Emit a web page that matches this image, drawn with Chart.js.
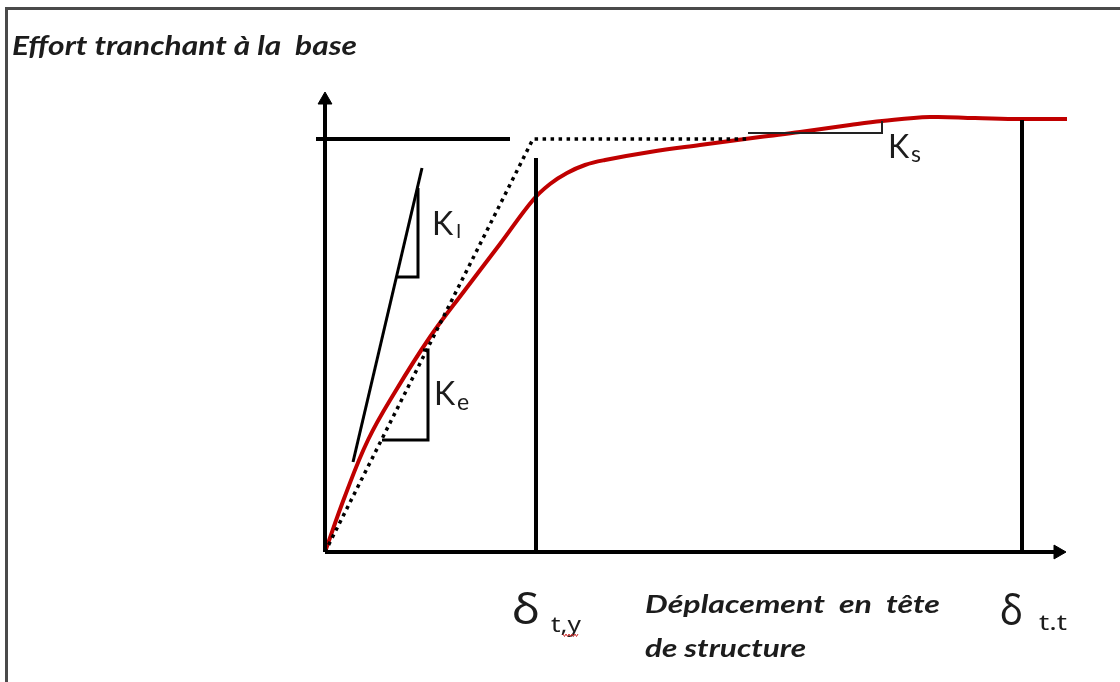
<!DOCTYPE html>
<html>
<head>
<meta charset="utf-8">
<script src="https://cdn.jsdelivr.net/npm/chart.js@4.4.1/dist/chart.umd.min.js"></script>
<style>
  html, body { margin: 0; padding: 0; background: #fff; }
  #wrap { width: 1120px; height: 682px; }
</style>
</head>
<body>
<div id="wrap"><canvas id="pushover_chart" width="1120" height="682"></canvas></div>
<script>
// capacity curve (displacement, base shear), drawing units
var capacity_x = [0, 20, 43, 70, 105, 140, 175, 208, 225, 242, 260, 280, 325, 375, 435, 475, 525, 557, 605, 650, 697, 742];
var capacity_y = [0, 56, 112, 160, 215, 262, 308, 352, 368, 379, 387, 392, 400, 407, 415, 420, 427, 431, 435, 434, 433, 433];

// bilinear idealisation (dotted)
var bilinear_x = [0, 208, 425];
var bilinear_y = [0, 413, 413];

// target displacements
var delta_ty = 211;
var delta_tt = 697;
var delta_ty_top = 394;
var delta_tt_top = 432;

// yield level line
var yield_x = [-9, 185];
var yield_y = [413, 413];

// axes ends
var axis_x_end = 740;
var axis_y_end = 459;

// stiffness triangles
var ki_line_x = [28, 97];
var ki_line_y = [90, 384];
var ki_tri_x = [93, 93, 71];
var ki_tri_y = [364, 275, 275];
var ke_tri_x = [98, 103, 103, 57];
var ke_tri_y = [202, 202, 112, 112];
var ks_tri_x = [423, 557, 557];
var ks_tri_y = [419, 419, 431];

function pts(xs, ys) {
  return xs.map(function (x, i) { return { x: x, y: ys[i] }; });
}

function seg(xs, ys, color, width, extra) {
  var ds = {
    data: pts(xs, ys),
    showLine: true,
    borderColor: color,
    borderWidth: width,
    pointRadius: 0,
    tension: 0,
    fill: false
  };
  for (var k in extra) ds[k] = extra[k];
  return ds;
}

// w = width the text is stretched to (as in the scanned figure)
var labels = [
  { text: 'Effort tranchant à la  base', x: -313, y: 497, font: 'italic bold 27px Lato', w: 345 },
  { text: 'Déplacement  en  tête', x: 320, y: -61, font: 'italic bold 25px Lato', w: 295 },
  { text: 'de structure', x: 320, y: -105, font: 'italic bold 25px Lato', w: 161 },
  { text: 'δ', x: 187, y: -72, font: '42px "Noto Sans"', w: 28 },
  { text: 't,y', x: 226, y: -80, font: '21px "Noto Sans"', w: 30 },
  { text: 'δ', x: 675, y: -73, font: '42px "Noto Sans"', w: 23 },
  { text: 't.t', x: 714, y: -78, font: '21px "Noto Sans"', w: 28 },
  { text: 'K', x: 107, y: 317, font: '32px Lato' },
  { text: 'I', x: 131, y: 314, font: '19px Lato' },
  { text: 'K', x: 109, y: 147, font: '32px Lato' },
  { text: 'e', x: 132, y: 142, font: '23px Lato' },
  { text: 'K', x: 563, y: 394, font: '32px Lato' },
  { text: 's', x: 586, y: 390, font: '23px Lato' }
];

var decorPlugin = {
  id: 'decor',
  beforeDraw: function (chart) {
    var ctx = chart.ctx;
    ctx.save();
    ctx.fillStyle = '#fff';
    ctx.fillRect(0, 0, chart.width, chart.height);
    ctx.strokeStyle = '#4a4a4a';
    ctx.lineWidth = 3;
    ctx.strokeRect(6.5, 8.5, chart.width + 10, chart.height + 10);
    ctx.restore();
  },
  afterDraw: function (chart) {
    var ctx = chart.ctx;
    var sx = chart.scales.x, sy = chart.scales.y;
    ctx.save();
    ctx.fillStyle = '#1c1c1c';
    ctx.textBaseline = 'alphabetic';
    ctx.textAlign = 'left';
    labels.forEach(function (l) {
      ctx.font = l.font;
      var px = sx.getPixelForValue(l.x), py = sy.getPixelForValue(l.y);
      if (l.w) {
        var tw = ctx.measureText(l.text).width;
        ctx.save();
        ctx.translate(px, py);
        ctx.scale(l.w / tw, 1);
        ctx.fillText(l.text, 0, 0);
        ctx.restore();
      } else {
        ctx.fillText(l.text, px, py);
      }
    });
    // spell-check squiggle under the "y"
    var qx = sx.getPixelForValue(238), qy = sy.getPixelForValue(-83);
    ctx.strokeStyle = '#d03030';
    ctx.lineWidth = 1;
    ctx.beginPath();
    for (var i = 0; i <= 10; i++) {
      var xx = qx + i * 1.5;
      var yy = qy + (i % 2 ? 1.5 : -1);
      if (i === 0) ctx.moveTo(xx, yy); else ctx.lineTo(xx, yy);
    }
    ctx.stroke();
    ctx.restore();
  }
};

var ctx = document.getElementById('pushover_chart').getContext('2d');
var pushover_chart = new Chart(ctx, {
  type: 'scatter',
  data: {
    datasets: [
      seg([0, 0], [0, axis_y_end - 8], '#000', 4),
      seg([0, axis_x_end - 8], [0, 0], '#000', 4),
      {
        data: [{ x: 0, y: axis_y_end - 7 }, { x: axis_x_end - 7, y: 0 }],
        pointStyle: 'triangle',
        pointRadius: 8,
        rotation: [0, 90],
        backgroundColor: '#000',
        borderColor: '#000',
        borderWidth: 1
      },
      seg(yield_x, yield_y, '#000', 4),
      seg([delta_ty, delta_ty], [0, delta_ty_top], '#000', 4),
      seg([delta_tt, delta_tt], [0, delta_tt_top], '#000', 4),
      seg(ki_line_x, ki_line_y, '#000', 3),
      seg(ki_tri_x, ki_tri_y, '#000', 3),
      seg(ke_tri_x, ke_tri_y, '#000', 3),
      seg(ks_tri_x, ks_tri_y, '#222', 2),
      seg(bilinear_x, bilinear_y, '#000', 3.5, { borderDash: [3.5, 4.5] }),
      seg(capacity_x, capacity_y, '#c00000', 4, { tension: 0.4 })
    ]
  },
  options: {
    responsive: false,
    animation: false,
    layout: { padding: 0, autoPadding: false },
    plugins: {
      legend: { display: false },
      tooltip: { enabled: false }
    },
    scales: {
      x: { type: 'linear', min: -325, max: 795, display: false },
      y: { type: 'linear', min: -130, max: 552, display: false }
    }
  },
  plugins: [decorPlugin]
});
</script>
</body>
</html>
